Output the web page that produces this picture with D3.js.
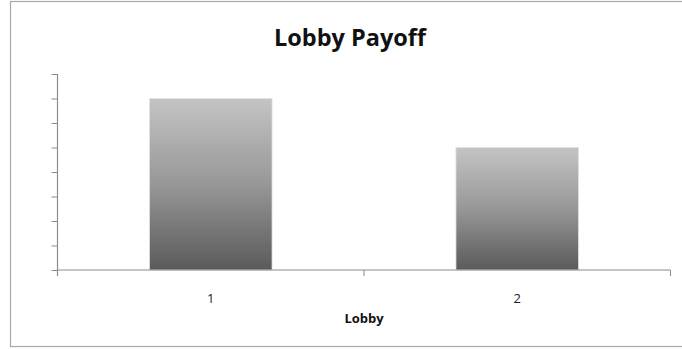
<!DOCTYPE html>
<html>
<head>
<meta charset="utf-8">
<script src="https://cdn.jsdelivr.net/npm/d3@7"></script>
<style>
  html, body { margin: 0; padding: 0; background: #fff; }
  svg { display: block; }
</style>
</head>
<body>
<svg id="chart" width="682" height="349"></svg>
<script>
// Payoff per lobby
const categories = ["1", "2"];
const payoffs = [7, 5];
const yTickValues = [0, 1, 2, 3, 4, 5, 6, 7, 8];
const yTickLabels = ["", "", "", "", "", "", "", "", ""];
const chartTitle = "Lobby Payoff";
const xTitle = "Lobby";

const svg = d3.select("#chart");
const W = 682, H = 349;
const margin = { left: 57.5, right: 11.5, top: 74, bottom: 79 };
const plotW = W - margin.left - margin.right;
const plotH = H - margin.top - margin.bottom;

// Outer chart frame (right side runs off the canvas)
svg.append("rect")
  .attr("x", 10.5).attr("y", 1.5)
  .attr("width", 690).attr("height", 345)
  .attr("fill", "#fff")
  .attr("stroke", "#a9a9a9")
  .attr("stroke-width", 1.2);

const defs = svg.append("defs");
const grad = defs.append("linearGradient")
  .attr("id", "barShade")
  .attr("x1", 0).attr("y1", 0).attr("x2", 0).attr("y2", 1);
grad.append("stop").attr("offset", "0%").attr("stop-color", "#c4c4c4");
grad.append("stop").attr("offset", "50%").attr("stop-color", "#979797");
grad.append("stop").attr("offset", "100%").attr("stop-color", "#5a5a5a");

const x = d3.scaleBand()
  .domain(categories)
  .range([0, plotW])
  .paddingInner(0.6)
  .paddingOuter(0.3);

const y = d3.scaleLinear()
  .domain([0, 8])
  .range([plotH, 0]);

const g = svg.append("g")
  .attr("transform", `translate(${margin.left},${margin.top})`);

// Bars
g.selectAll("rect.bar")
  .data(categories.map((c, i) => ({ c, v: payoffs[i] })))
  .join("rect")
  .attr("class", "bar")
  .attr("x", d => x(d.c))
  .attr("y", d => y(d.v))
  .attr("width", x.bandwidth())
  .attr("height", d => y(0) - y(d.v))
  .attr("fill", "url(#barShade)")
  .attr("stroke", "#e2e2e2")
  .attr("stroke-width", 0.8);

// Y axis: tick marks only, no labels
const yAxis = d3.axisLeft(y)
  .tickValues(yTickValues)
  .tickFormat((d, i) => yTickLabels[i])
  .tickSize(6)
  .tickSizeOuter(0);
const yg = g.append("g").call(yAxis);
yg.select(".domain").remove();
yg.selectAll(".tick line").attr("stroke", "#8c8c8c").attr("stroke-width", 1);
// vertical axis line continues a little below the baseline
yg.append("line")
  .attr("x1", 0).attr("x2", 0)
  .attr("y1", y(8)).attr("y2", y(0) + 6)
  .attr("stroke", "#8c8c8c").attr("stroke-width", 1.2);

// X axis with ticks at category boundaries
const step = x.step();
const boundaries = d3.range(categories.length + 1).map(i => i * step);
const xg = g.append("g").attr("transform", `translate(0,${plotH})`);
xg.append("line")
  .attr("x1", 0).attr("x2", plotW)
  .attr("y1", 0).attr("y2", 0)
  .attr("stroke", "#8c8c8c").attr("stroke-width", 1.2);
xg.selectAll("line.btick")
  .data(boundaries)
  .join("line")
  .attr("class", "btick")
  .attr("x1", d => d).attr("x2", d => d)
  .attr("y1", 0).attr("y2", 6)
  .attr("stroke", "#8c8c8c").attr("stroke-width", 1);
xg.selectAll("text.cat")
  .data(categories)
  .join("text")
  .attr("class", "cat")
  .attr("x", d => x(d) + x.bandwidth() / 2)
  .attr("y", 33)
  .attr("text-anchor", "middle")
  .attr("font-family", "'Open Sans', 'Noto Sans', sans-serif")
  .attr("font-size", 13)
  .attr("fill", "#1a1a1a")
  .text(d => d);

// Axis title
svg.append("text")
  .attr("x", margin.left + plotW / 2)
  .attr("y", 323)
  .attr("text-anchor", "middle")
  .attr("font-family", "'Open Sans', 'Noto Sans', sans-serif")
  .attr("font-weight", "bold")
  .attr("font-size", 13)
  .attr("fill", "#111")
  .text(xTitle);

// Chart title
svg.append("text")
  .attr("x", 350)
  .attr("y", 46)
  .attr("text-anchor", "middle")
  .attr("font-family", "'Open Sans', 'Noto Sans', sans-serif")
  .attr("font-weight", "bold")
  .attr("font-size", 23.5)
  .attr("fill", "#111")
  .text(chartTitle);
</script>
</body>
</html>
